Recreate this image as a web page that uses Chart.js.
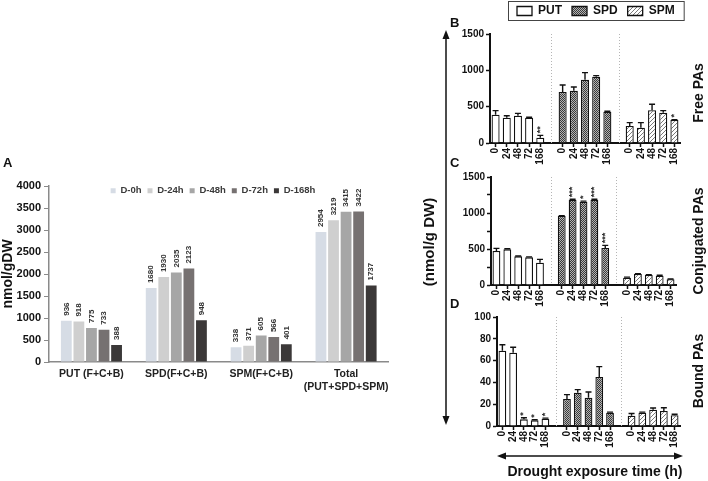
<!DOCTYPE html>
<html>
<head>
<meta charset="utf-8">
<script src="https://cdn.jsdelivr.net/npm/chart.js@4.4.0/dist/chart.umd.min.js"></script>
<style>
    body { margin: 0; background: #fff; font-family: Arial, "Liberation Sans", sans-serif; }
    #wrap { position: relative; width: 708px; height: 481px; overflow: hidden; background: #fff; }
    .box { position: absolute; }
    .t { position: absolute; font-weight: bold; color: #111; white-space: nowrap; line-height: 1; }
    .rot { transform: translate(-50%, -50%) rotate(-90deg); }
    .mid { transform: translate(-50%, -50%); }
    svg { position: absolute; left: 0; top: 0; }
</style>
</head>
<body>
<div id="wrap">
    <div class="box" style="left:0;top:150px;width:395px;height:250px"><canvas id="chartA"></canvas></div>
    <div class="box" style="left:440px;top:0;width:268px;height:168px"><canvas id="chartB"></canvas></div>
    <div class="box" style="left:440px;top:165px;width:268px;height:145px"><canvas id="chartC"></canvas></div>
    <div class="box" style="left:440px;top:300px;width:268px;height:151px"><canvas id="chartD"></canvas></div>

    <svg width="708" height="481">
        <line x1="446" y1="37" x2="446" y2="418" stroke="#111" stroke-width="1.5"/>
        <polygon points="446,30 442.5,39 449.5,39" fill="#111"/>
        <polygon points="446,425 442.5,416 449.5,416" fill="#111"/>
        <line x1="504" y1="456" x2="676" y2="456" stroke="#111" stroke-width="1.5"/>
        <polygon points="497,456 506,452.5 506,459.5" fill="#111"/>
        <polygon points="683,456 674,452.5 674,459.5" fill="#111"/>
    </svg>

    <div class="t" style="left:3px;top:156px;font-size:13px">A</div>
    <div class="t" style="left:450px;top:16px;font-size:13px">B</div>
    <div class="t" style="left:450px;top:156px;font-size:13px">C</div>
    <div class="t" style="left:450px;top:297px;font-size:13px">D</div>
    <div class="t rot" style="left:428px;top:242px;font-size:15px">(nmol/g DW)</div>
    <div class="t rot" style="left:698px;top:93px;font-size:14px">Free PAs</div>
    <div class="t rot" style="left:698px;top:241px;font-size:14px">Conjugated PAs</div>
    <div class="t rot" style="left:698px;top:371px;font-size:14px">Bound PAs</div>
    <div class="t mid" style="left:595px;top:471px;font-size:14px">Drought exposure time (h)</div>
</div>

<script>
// ---- panel A: total polyamines (nmol/gDW) ----
const categoriesA = ['PUT (F+C+B)', 'SPD(F+C+B)', 'SPM(F+C+B)', ['Total', '(PUT+SPD+SPM)']];
const seriesA = ['D-0h', 'D-24h', 'D-48h', 'D-72h', 'D-168h'];
const d0h = [936, 1680, 338, 2954];
const d24h = [918, 1930, 371, 3219];
const d48h = [775, 2035, 605, 3415];
const d72h = [733, 2123, 566, 3422];
const d168h = [388, 948, 401, 1737];
const coloursA = ['#d6dce5', '#cfcfcf', '#a6a6a6', '#767171', '#3b3838'];

// ---- panels B-D: time points and polyamines ----
const timePoints = ['0', '24', '48', '72', '168'];
const polyamines = ['PUT', 'SPD', 'SPM'];

// B - free PAs
const freePut = [390, 349, 376, 349, 73];
const freePutSd = [55, 27, 32, 5, 32];
const freeSpd = [702, 720, 872, 913, 431];
const freeSpdSd = [96, 50, 96, 14, 5];
const freeSpm = [234, 211, 450, 417, 317];
const freeSpmSd = [46, 69, 83, 28, 5];
const freePutStars = ['', '', '', '', '**'];
const freeSpdStars = ['', '', '', '', ''];
const freeSpmStars = ['', '', '', '', '*'];

// C - conjugated PAs
const conjPut = [472, 495, 398, 384, 310];
const conjPutSd = [37, 8, 5, 6, 46];
const conjSpd = [958, 1185, 1157, 1185, 514];
const conjSpdSd = [5, 5, 8, 5, 37];
const conjSpm = [102, 153, 139, 130, 79];
const conjSpmSd = [8, 5, 5, 5, 5];
const conjPutStars = ['', '', '', '', ''];
const conjSpdStars = ['', '***', '*', '***', '***'];
const conjSpmStars = ['', '', '', '', ''];

// D - bound PAs
const boundPut = [69, 67.3, 6.1, 5.2, 6.7];
const boundPutSd = [5.5, 5, 1.5, 0.5, 0.5];
const boundSpd = [24.8, 30.6, 26, 45, 12.2];
const boundSpdSd = [4, 2.8, 5.2, 9.5, 0.5];
const boundSpm = [9.5, 12.2, 15, 13.8, 9.8];
const boundSpmSd = [2, 0.5, 1.5, 3, 1];
const boundPutStars = ['', '', '*', '*', '*'];
const boundSpdStars = ['', '', '', '', ''];
const boundSpmStars = ['', '', '', '', ''];

Chart.defaults.font.family = 'Arial, "Liberation Sans", sans-serif';
Chart.defaults.color = '#111';
Chart.defaults.animation = false;

// x labels for B-D: three groups with an empty slot between them
const slotLabels = [...timePoints, '', ...timePoints, '', ...timePoints];

function spread(values, group) {
    return slotLabels.map((l, i) => {
        const k = i - group * (timePoints.length + 1);
        return (k >= 0 && k < timePoints.length) ? values[k] : null;
    });
}

function makePattern(kind) {
    const c = document.createElement('canvas');
    const g = c.getContext('2d');
    if (kind === 'spd') {
        c.width = c.height = 2;
        g.fillStyle = '#b4b4b4';
        g.fillRect(0, 0, 2, 2);
        g.fillStyle = '#3a3a3a';
        g.fillRect(0, 0, 1, 1);
        g.fillRect(1, 1, 1, 1);
    } else {
        c.width = c.height = 4;
        g.fillStyle = '#ffffff';
        g.fillRect(0, 0, 4, 4);
        g.strokeStyle = '#7a7a7a';
        g.lineWidth = 1;
        g.beginPath();
        g.moveTo(0, 4); g.lineTo(4, 0);
        g.moveTo(-1, 1); g.lineTo(1, -1);
        g.moveTo(3, 5); g.lineTo(5, 3);
        g.stroke();
    }
    return g.createPattern(c, 'repeat');
}
const fills = ['#ffffff', makePattern('spd'), makePattern('spm')];

// moves the library legend after layout
function legendPlace(height, dx, top) {
    return {
        id: 'legendPlace',
        beforeLayout(chart) {
            const lg = chart.legend;
            if (lg && !lg._fixed) {
                const fit = lg.fit.bind(lg);
                lg.fit = function () { fit(); this.height = height; };
                lg._fixed = true;
            }
        },
        afterLayout(chart) {
            const lg = chart.legend;
            lg.left += dx;
            lg.right += dx;
            lg.top = top;
            lg.bottom = top + height;
        }
    };
}

const legendFrame = {
    id: 'legendFrame',
    afterDraw(chart) {
        const boxes = chart.legend.legendHitBoxes;
        if (!boxes || !boxes.length) return;
        const l = Math.min(...boxes.map(b => b.left)) - 9;
        const r = Math.max(...boxes.map(b => b.left + b.width)) + 9;
        const t = boxes[0].top - 4;
        const h = boxes[0].height + 7;
        const ctx = chart.ctx;
        ctx.save();
        ctx.strokeStyle = '#444';
        ctx.lineWidth = 1;
        ctx.strokeRect(l + 0.5, t + 0.5, r - l, h);
        ctx.restore();
    }
};

const separators = {
    id: 'separators',
    beforeDatasetsDraw(chart) {
        const x = chart.scales.x, area = chart.chartArea, ctx = chart.ctx;
        ctx.save();
        ctx.strokeStyle = '#b5b5b5';
        ctx.lineWidth = 1;
        ctx.setLineDash([1, 2]);
        slotLabels.forEach((l, i) => {
            if (l !== '') return;
            const px = Math.round(x.getPixelForTick(i)) + 0.5;
            ctx.beginPath();
            ctx.moveTo(px, area.top);
            ctx.lineTo(px, area.bottom);
            ctx.stroke();
        });
        ctx.restore();
    }
};

const errorBars = {
    id: 'errorBars',
    afterDatasetsDraw(chart) {
        const ctx = chart.ctx, y = chart.scales.y;
        chart.data.datasets.forEach((ds, di) => {
            const meta = chart.getDatasetMeta(di);
            meta.data.forEach((bar, i) => {
                const v = ds.data[i];
                if (v === null) return;
                const sd = ds.errors[i];
                const top = y.getPixelForValue(v + sd);
                ctx.save();
                ctx.strokeStyle = '#111';
                ctx.lineWidth = 1.4;
                ctx.beginPath();
                ctx.moveTo(bar.x, bar.y);
                ctx.lineTo(bar.x, top);
                ctx.moveTo(bar.x - 3, top);
                ctx.lineTo(bar.x + 3, top);
                ctx.stroke();
                if (ds.stars[i]) {
                    ctx.translate(bar.x, top - 2);
                    ctx.rotate(-Math.PI / 2);
                    ctx.fillStyle = '#333';
                    ctx.font = 'bold 9px Arial, "Liberation Sans", sans-serif';
                    ctx.textAlign = 'left';
                    ctx.textBaseline = 'middle';
                    ctx.fillText(ds.stars[i], 0, 0);
                }
                ctx.restore();
            });
        });
    }
};

function panelChart(id, put, spd, spm, sds, stars, yMax, yStep, labelEvery, yWidth, pad, showLegend) {
    const values = [put, spd, spm];
    const datasets = polyamines.map((name, g) => ({
        label: name,
        data: spread(values[g], g),
        errors: spread(sds[g], g),
        stars: spread(stars[g], g),
        backgroundColor: fills[g],
        borderColor: '#111',
        borderWidth: 1.3,
        barPercentage: 0.72,
        categoryPercentage: 1,
        grouped: false,
    }));
    const plugins = [separators, errorBars];
    if (showLegend) plugins.push(legendPlace(34, 67, -5), legendFrame);
    return new Chart(document.getElementById(id), {
        type: 'bar',
        data: { labels: slotLabels, datasets: datasets },
        options: {
            responsive: true,
            maintainAspectRatio: false,
            layout: { padding: pad },
            plugins: {
                legend: {
                    display: showLegend,
                    position: 'top',
                    align: 'start',
                    labels: {
                        boxWidth: 15,
                        boxHeight: 9,
                        padding: 10,
                        color: '#111',
                        font: { size: 12, weight: 'bold' },
                    },
                },
                tooltip: { enabled: false },
            },
            scales: {
                x: {
                    offset: true,
                    border: { display: true, color: '#111', width: 2 },
                    grid: {
                        offset: false,
                        drawOnChartArea: false,
                        tickLength: 4,
                        tickWidth: 1.5,
                        tickColor: (c) => slotLabels[c.index] === '' ? 'rgba(0,0,0,0)' : '#111',
                    },
                    ticks: {
                        autoSkip: false,
                        minRotation: 90,
                        maxRotation: 90,
                        padding: 1,
                        color: '#111',
                        font: { size: 10, weight: 'bold' },
                    },
                    afterFit: (s) => { s.height = 25; },
                },
                y: {
                    min: 0,
                    max: yMax,
                    border: { display: true, color: '#111', width: 2 },
                    grid: { drawOnChartArea: false, tickLength: 4, tickWidth: 1.5, tickColor: '#111' },
                    ticks: {
                        stepSize: yStep,
                        padding: 2,
                        color: '#111',
                        font: { size: 10, weight: 'bold' },
                        callback: (v) => v % labelEvery === 0 ? String(v) : '',
                    },
                    afterFit: (s) => { s.width = yWidth; },
                },
            },
        },
        plugins: plugins,
    });
}

window.onload = () => {

    // panel A
    const seriesValues = [d0h, d24h, d48h, d72h, d168h];
    const valueLabels = {
        id: 'valueLabels',
        afterDatasetsDraw(chart) {
            const ctx = chart.ctx;
            chart.data.datasets.forEach((ds, di) => {
                chart.getDatasetMeta(di).data.forEach((bar, i) => {
                    ctx.save();
                    ctx.translate(bar.x, bar.y - 5);
                    ctx.rotate(-Math.PI / 2);
                    ctx.fillStyle = '#333';
                    ctx.font = 'bold 8px Arial, "Liberation Sans", sans-serif';
                    ctx.textAlign = 'left';
                    ctx.textBaseline = 'middle';
                    ctx.fillText(String(ds.data[i]), 0, 0);
                    ctx.restore();
                });
            });
        }
    };

    new Chart(document.getElementById('chartA'), {
        type: 'bar',
        data: {
            labels: categoriesA,
            datasets: seriesA.map((name, i) => ({
                label: name,
                data: seriesValues[i],
                backgroundColor: coloursA[i],
                borderWidth: 0,
                barPercentage: 0.86,
                categoryPercentage: 0.74,
            })),
        },
        options: {
            responsive: true,
            maintainAspectRatio: false,
            layout: { padding: { top: 0, bottom: 8, right: 5, left: 0 } },
            plugins: {
                legend: {
                    position: 'top',
                    labels: {
                        boxWidth: 5,
                        boxHeight: 5,
                        padding: 6,
                        color: '#3a3a3a',
                        font: { size: 9.5, weight: 'bold' },
                    },
                },
                tooltip: { enabled: false },
            },
            scales: {
                x: {
                    border: { display: true, color: '#8a8a8a', width: 1.5 },
                    grid: { drawOnChartArea: false, drawTicks: false },
                    ticks: {
                        autoSkip: false,
                        maxRotation: 0,
                        minRotation: 0,
                        padding: 6,
                        color: '#222',
                        font: { size: 10.5, weight: 'bold' },
                    },
                    afterFit: (s) => { s.height = 30; },
                },
                y: {
                    min: 0,
                    max: 4000,
                    title: { display: true, text: 'nmol/gDW', color: '#111', font: { size: 14, weight: 'bold' }, padding: 0 },
                    border: { display: true, color: '#8a8a8a', width: 1.5 },
                    grid: { drawOnChartArea: false, tickLength: 5, tickColor: '#8a8a8a' },
                    ticks: {
                        stepSize: 500,
                        padding: 3,
                        color: '#111',
                        font: { size: 11, weight: 'bold' },
                        callback: (v) => String(v),
                    },
                    afterFit: (s) => { s.width = 49; },
                },
            },
        },
        plugins: [legendPlace(36, 18, 30), valueLabels],
    });

    // panels B, C, D
    panelChart('chartB', freePut, freeSpd, freeSpm,
        [freePutSd, freeSpdSd, freeSpmSd], [freePutStars, freeSpdStars, freeSpmStars],
        1500, 500, 500, 50, { top: 0, bottom: 0, left: 0, right: 28 }, true);

    panelChart('chartC', conjPut, conjSpd, conjSpm,
        [conjPutSd, conjSpdSd, conjSpmSd], [conjPutStars, conjSpdStars, conjSpmStars],
        1500, 250, 500, 51, { top: 12, bottom: 0, left: 0, right: 32 }, false);

    panelChart('chartD', boundPut, boundSpd, boundSpm,
        [boundPutSd, boundSpdSd, boundSpmSd], [boundPutStars, boundSpdStars, boundSpmStars],
        100, 10, 20, 57, { top: 17, bottom: 0, left: 0, right: 28 }, false);
}
</script>
</body>
</html>
